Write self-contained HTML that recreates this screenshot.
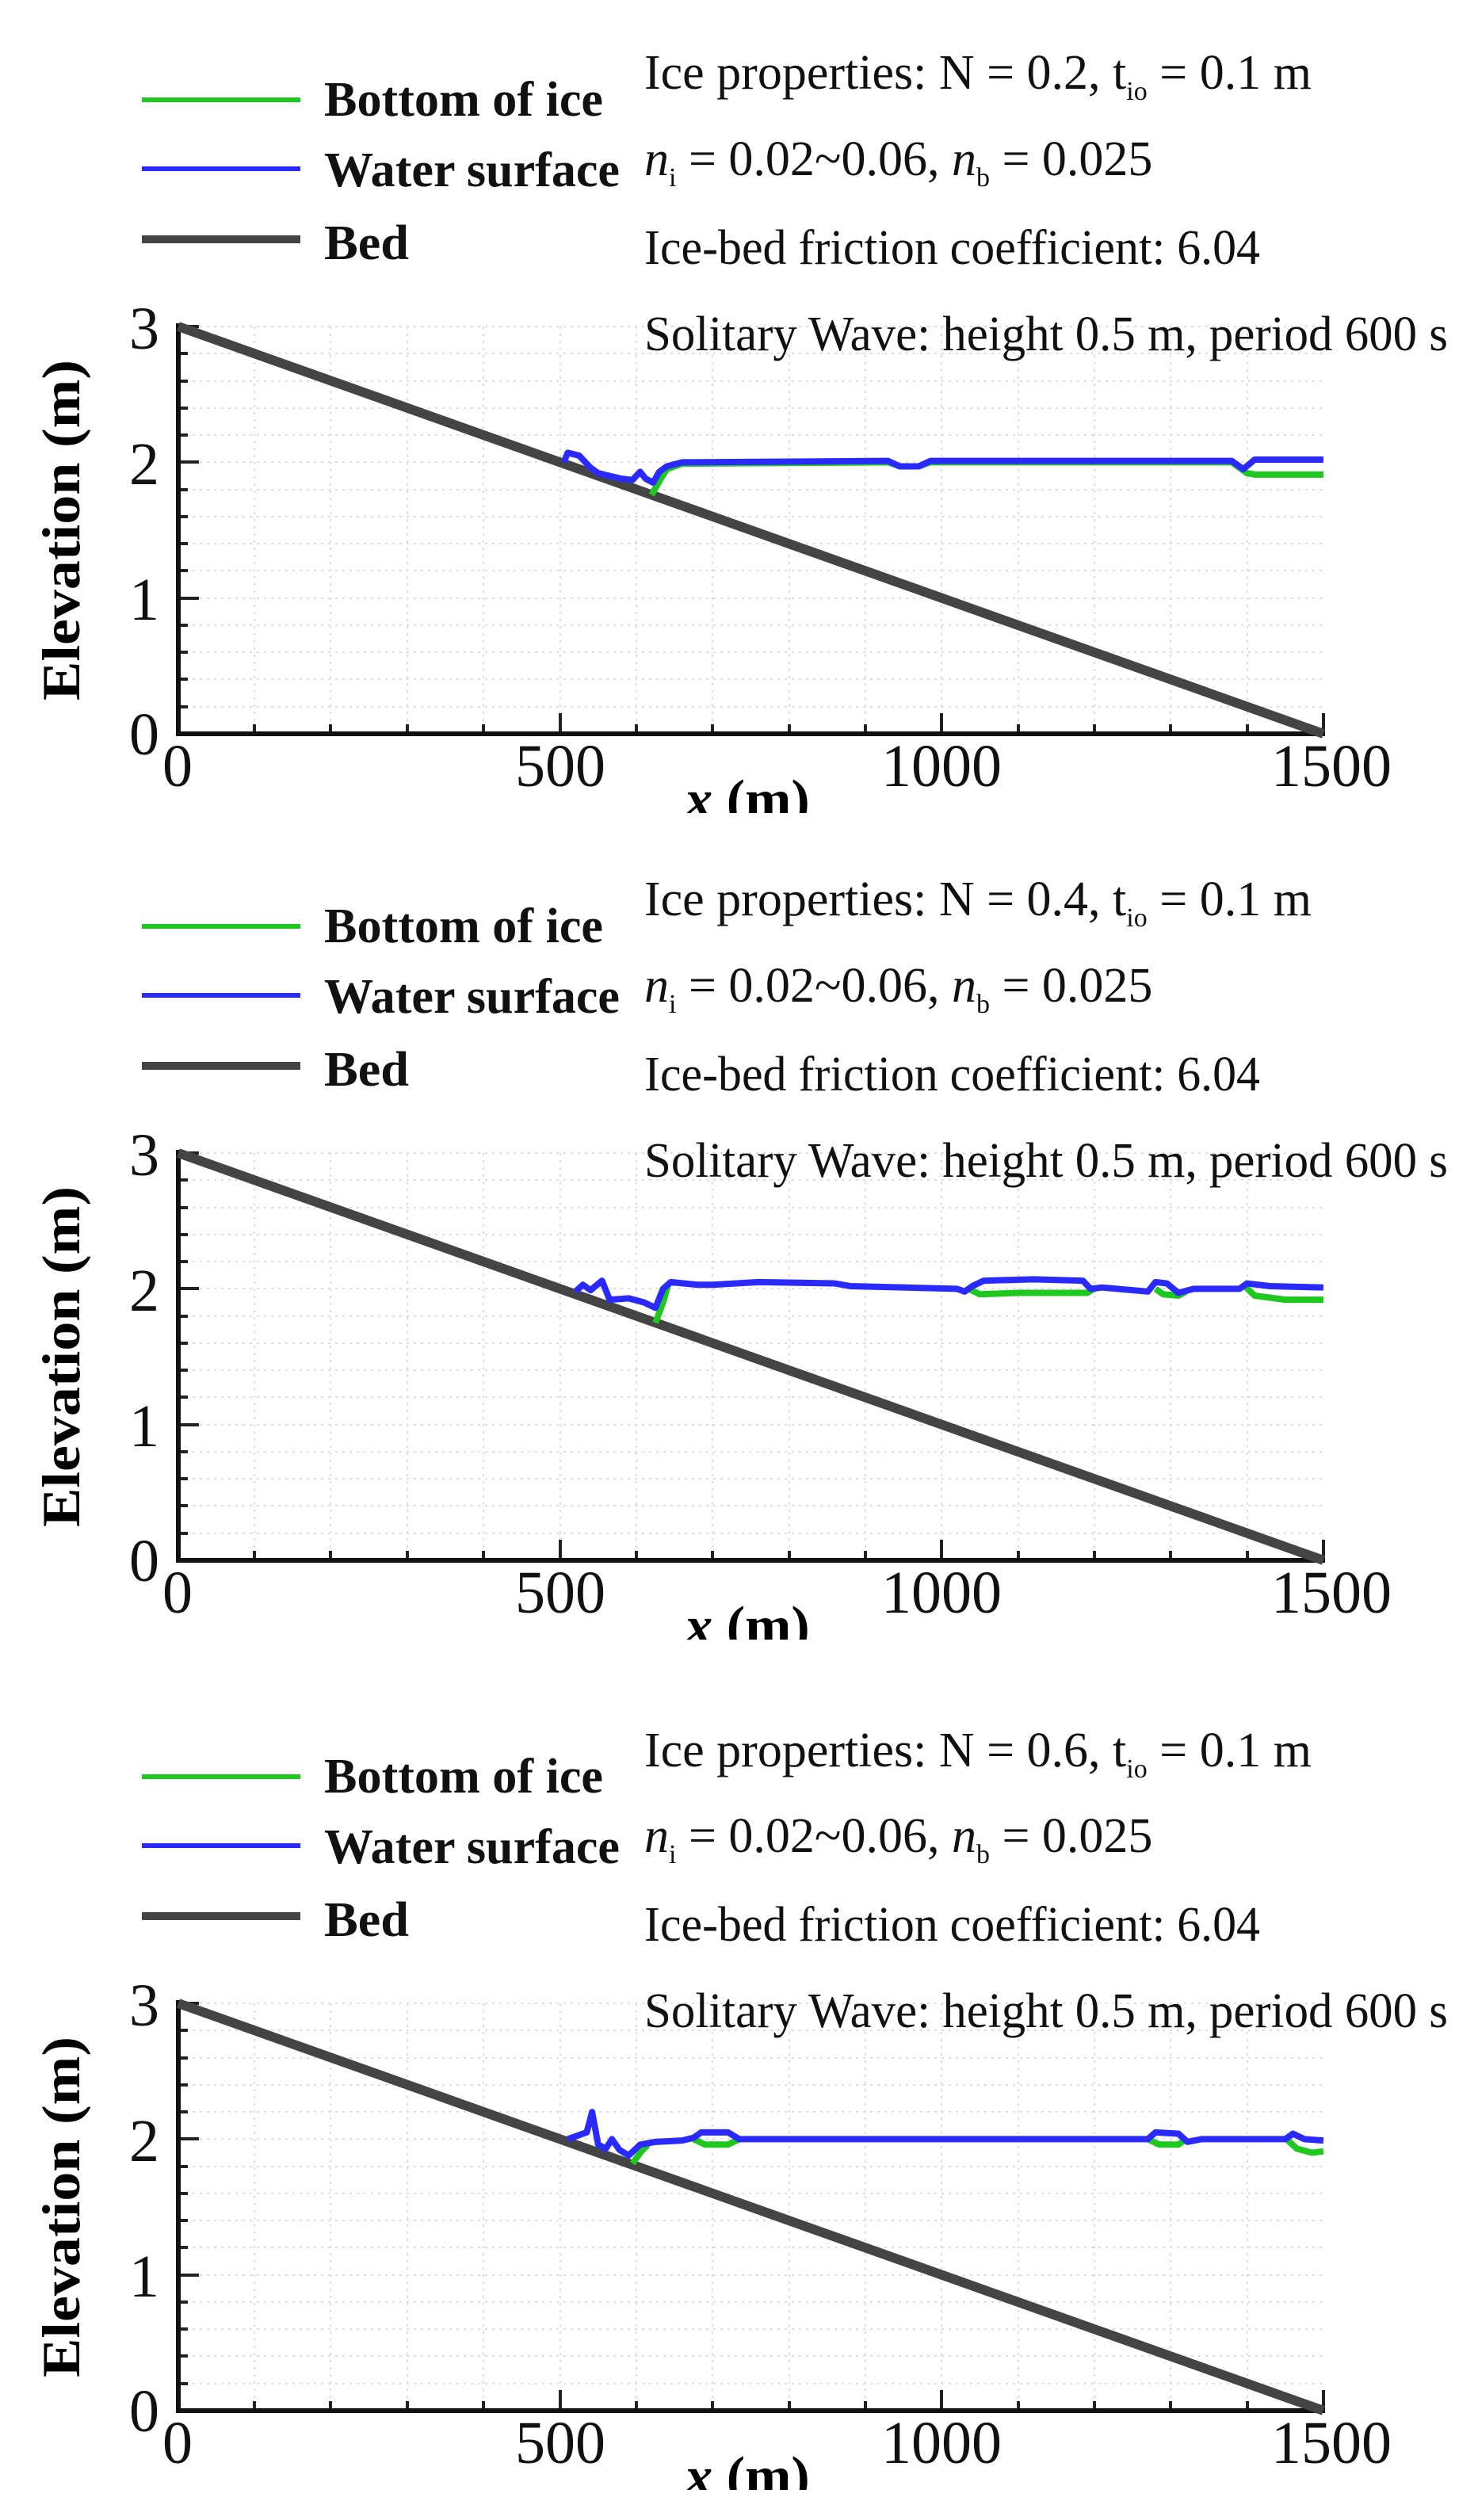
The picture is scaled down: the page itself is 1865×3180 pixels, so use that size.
<!DOCTYPE html>
<html><head><meta charset="utf-8"><style>html,body{margin:0;padding:0;background:#fff}svg{display:block}</style></head>
<body>
<svg width="1865" height="3180" viewBox="0 0 1865 3180" xmlns="http://www.w3.org/2000/svg" font-family="Liberation Serif, serif">
<defs>
<g id="frame">
  <g stroke="#dedede" stroke-width="2" stroke-dasharray="3 6">
    <line x1="321" y1="412" x2="321" y2="926"/><line x1="417" y1="412" x2="417" y2="926"/><line x1="514" y1="412" x2="514" y2="926"/><line x1="610" y1="412" x2="610" y2="926"/><line x1="707" y1="412" x2="707" y2="926"/><line x1="803" y1="412" x2="803" y2="926"/><line x1="899" y1="412" x2="899" y2="926"/><line x1="996" y1="412" x2="996" y2="926"/><line x1="1092" y1="412" x2="1092" y2="926"/><line x1="1188" y1="412" x2="1188" y2="926"/><line x1="1285" y1="412" x2="1285" y2="926"/><line x1="1381" y1="412" x2="1381" y2="926"/><line x1="1477" y1="412" x2="1477" y2="926"/><line x1="1574" y1="412" x2="1574" y2="926"/>
    <line x1="225" y1="412" x2="1672" y2="412"/><line x1="225" y1="446" x2="1672" y2="446"/><line x1="225" y1="481" x2="1672" y2="481"/><line x1="225" y1="515" x2="1672" y2="515"/><line x1="225" y1="549" x2="1672" y2="549"/><line x1="225" y1="583" x2="1672" y2="583"/><line x1="225" y1="618" x2="1672" y2="618"/><line x1="225" y1="652" x2="1672" y2="652"/><line x1="225" y1="686" x2="1672" y2="686"/><line x1="225" y1="720" x2="1672" y2="720"/><line x1="225" y1="755" x2="1672" y2="755"/><line x1="225" y1="789" x2="1672" y2="789"/><line x1="225" y1="823" x2="1672" y2="823"/><line x1="225" y1="857" x2="1672" y2="857"/><line x1="225" y1="892" x2="1672" y2="892"/>
  </g>
  <g stroke="#222" stroke-width="4">
    <line x1="321" y1="926" x2="321" y2="914"/><line x1="417" y1="926" x2="417" y2="914"/><line x1="514" y1="926" x2="514" y2="914"/><line x1="610" y1="926" x2="610" y2="914"/><line x1="707" y1="926" x2="707" y2="900"/><line x1="803" y1="926" x2="803" y2="914"/><line x1="899" y1="926" x2="899" y2="914"/><line x1="996" y1="926" x2="996" y2="914"/><line x1="1092" y1="926" x2="1092" y2="914"/><line x1="1188" y1="926" x2="1188" y2="900"/><line x1="1285" y1="926" x2="1285" y2="914"/><line x1="1381" y1="926" x2="1381" y2="914"/><line x1="1477" y1="926" x2="1477" y2="914"/><line x1="1574" y1="926" x2="1574" y2="914"/><line x1="1670" y1="926" x2="1670" y2="900"/>
    <line x1="225" y1="892" x2="237" y2="892"/><line x1="225" y1="857" x2="237" y2="857"/><line x1="225" y1="823" x2="237" y2="823"/><line x1="225" y1="789" x2="237" y2="789"/><line x1="225" y1="755" x2="251" y2="755"/><line x1="225" y1="720" x2="237" y2="720"/><line x1="225" y1="686" x2="237" y2="686"/><line x1="225" y1="652" x2="237" y2="652"/><line x1="225" y1="618" x2="237" y2="618"/><line x1="225" y1="583" x2="251" y2="583"/><line x1="225" y1="549" x2="237" y2="549"/><line x1="225" y1="515" x2="237" y2="515"/><line x1="225" y1="481" x2="237" y2="481"/><line x1="225" y1="446" x2="237" y2="446"/><line x1="225" y1="412" x2="251" y2="412"/>
  </g>
  <polyline points="225,408 225,926 1672,926" fill="none" stroke="#111" stroke-width="6"/>
  <line x1="225" y1="412" x2="1670" y2="926" stroke="#444" stroke-width="12"/>
  <g font-size="76" fill="#111">
    <text x="163" y="440">3</text><text x="163" y="611">2</text><text x="163" y="782">1</text><text x="163" y="952">0</text>
    <text x="205" y="992">0</text>
    <text x="707" y="992" text-anchor="middle">500</text>
    <text x="1188" y="992" text-anchor="middle">1000</text>
    <text x="1680" y="992" text-anchor="middle">1500</text>
  </g>
  <text x="943" y="1032" font-size="70" font-weight="bold" text-anchor="middle"><tspan font-style="italic">x</tspan> (m)</text>
  <rect x="0" y="1026" width="1865" height="40" fill="#fff"/>
  <text transform="translate(100,669) rotate(-90)" font-size="68" font-weight="bold" text-anchor="middle" textLength="430" lengthAdjust="spacingAndGlyphs">Elevation (m)</text>
  <line x1="179" y1="126" x2="379" y2="126" stroke="#1ec81e" stroke-width="6"/>
  <line x1="179" y1="213" x2="379" y2="213" stroke="#2a2aff" stroke-width="6"/>
  <line x1="179" y1="302" x2="379" y2="302" stroke="#444" stroke-width="10"/>
  <g font-size="62" font-weight="bold" fill="#111">
    <text x="409" y="146" textLength="352" lengthAdjust="spacingAndGlyphs">Bottom of ice</text>
    <text x="409" y="235" textLength="373" lengthAdjust="spacingAndGlyphs">Water surface</text>
    <text x="409" y="327" textLength="107" lengthAdjust="spacingAndGlyphs">Bed</text>
  </g>
  <g font-size="62" fill="#111">
    <text x="813" y="333" textLength="777" lengthAdjust="spacingAndGlyphs">Ice-bed friction coefficient: 6.04</text>
    <text x="813" y="442" textLength="1014" lengthAdjust="spacingAndGlyphs">Solitary Wave: height 0.5 m, period 600 s</text>
    <text x="813" y="221"><tspan font-style="italic">n</tspan><tspan font-size="34" dy="14">i</tspan><tspan dy="-14"> = 0.02~0.06, </tspan><tspan font-style="italic">n</tspan><tspan font-size="34" dy="14">b</tspan><tspan dy="-14"> = 0.025</tspan></text>
  </g>
</g>
</defs>

<use href="#frame"/>
<text x="813" y="112" font-size="62" fill="#111">Ice properties: N = 0.2, t<tspan font-size="34" dy="14">io</tspan><tspan dy="-14"> = 0.1 m</tspan></text>
<g transform="translate(225,926) scale(0.9633,-171.3)" fill="none" stroke-width="8" stroke-linejoin="round">
  <polyline vector-effect="non-scaling-stroke" stroke="#1ec81e" points="620,1.76 630,1.86 640,1.95 660,1.99 930,2.0 945,1.97 970,1.97 985,2.0 1380,2.0 1400,1.92 1410,1.91 1500,1.91"/>
  <polyline vector-effect="non-scaling-stroke" stroke="#2a2aff" points="505,2.0 510,2.07 525,2.05 540,1.96 550,1.92 580,1.88 595,1.87 605,1.93 612,1.88 622,1.85 630,1.93 640,1.97 660,2.0 930,2.01 945,1.97 970,1.97 985,2.01 1380,2.01 1395,1.95 1410,2.02 1500,2.02"/>
</g>

<use href="#frame" transform="translate(0,1043)"/>
<text x="813" y="1155" font-size="62" fill="#111">Ice properties: N = 0.4, t<tspan font-size="34" dy="14">io</tspan><tspan dy="-14"> = 0.1 m</tspan></text>
<g transform="translate(225,1969) scale(0.9633,-171.3)" fill="none" stroke-width="8" stroke-linejoin="round">
  <polyline vector-effect="non-scaling-stroke" stroke="#1ec81e" points="625,1.75 635,1.9 642,2.04"/>
  <polyline vector-effect="non-scaling-stroke" stroke="#1ec81e" points="1035,2.0 1050,1.96 1100,1.97 1190,1.97 1200,2.0"/>
  <polyline vector-effect="non-scaling-stroke" stroke="#1ec81e" points="1280,2.0 1290,1.96 1310,1.95 1320,1.98"/>
  <polyline vector-effect="non-scaling-stroke" stroke="#1ec81e" points="1395,2.03 1410,1.95 1450,1.92 1500,1.92"/>
  <polyline vector-effect="non-scaling-stroke" stroke="#2a2aff" points="520,1.98 530,2.03 540,1.99 555,2.06 565,1.92 590,1.93 610,1.9 625,1.86 635,2.0 645,2.05 680,2.03 700,2.03 760,2.05 860,2.04 880,2.02 1020,2.0 1030,1.98 1040,2.02 1055,2.06 1120,2.07 1185,2.06 1195,2.0 1210,2.01 1270,1.98 1280,2.05 1295,2.04 1310,1.97 1330,2.0 1390,2.0 1400,2.04 1430,2.02 1500,2.01"/>
</g>

<use href="#frame" transform="translate(0,2116)"/>
<text x="813" y="2229" font-size="62" fill="#111">Ice properties: N = 0.6, t<tspan font-size="34" dy="14">io</tspan><tspan dy="-14"> = 0.1 m</tspan></text>
<g transform="translate(225,3042) scale(0.9633,-171.3)" fill="none" stroke-width="8" stroke-linejoin="round">
  <polyline vector-effect="non-scaling-stroke" stroke="#1ec81e" points="595,1.82 605,1.9 615,1.96"/>
  <polyline vector-effect="non-scaling-stroke" stroke="#1ec81e" points="675,2.0 690,1.96 720,1.96 735,2.0"/>
  <polyline vector-effect="non-scaling-stroke" stroke="#1ec81e" points="1270,2.0 1285,1.96 1310,1.96 1320,2.0"/>
  <polyline vector-effect="non-scaling-stroke" stroke="#1ec81e" points="1450,2.01 1465,1.93 1485,1.9 1500,1.91"/>
  <polyline vector-effect="non-scaling-stroke" stroke="#2a2aff" points="510,2.0 525,2.03 535,2.05 542,2.2 550,1.96 560,1.93 568,2.0 578,1.92 590,1.88 605,1.96 625,1.98 660,1.99 675,2.01 685,2.05 720,2.05 735,2.0 760,2.0 1270,2.0 1280,2.05 1310,2.04 1322,1.98 1340,2.0 1450,2.0 1460,2.04 1475,2.0 1500,1.99"/>
</g>
</svg>
</body></html>
